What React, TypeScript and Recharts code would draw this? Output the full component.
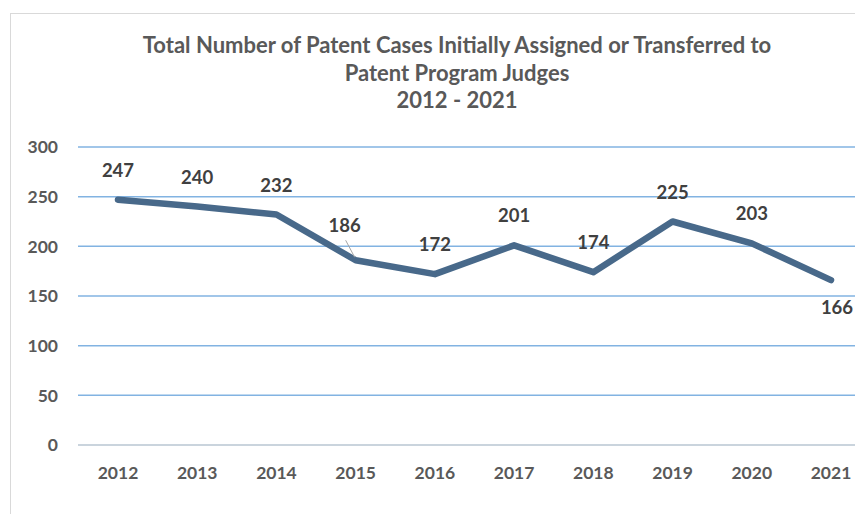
import { LineChart, Line, XAxis, YAxis, CartesianGrid, LabelList } from "recharts";

const years = ["2012", "2013", "2014", "2015", "2016", "2017", "2018", "2019", "2020", "2021"];
const cases = [247, 240, 232, 186, 172, 201, 174, 225, 203, 166];
const yTicks = [0, 50, 100, 150, 200, 250, 300];

const titleLines = [
  "Total Number of Patent Cases Initially Assigned or Transferred to",
  "Patent Program Judges",
  "2012 - 2021",
];

const data = years.map((year, i) => ({ year, cases: cases[i] }));

const FONT = "Lato, 'Open Sans', sans-serif";

// label offsets from the point; 2015 gets a leader line, 2021 sits below
function labelOffset(index: number) {
  if (index === 3) return { dx: -11, dy: -35 };
  if (index === years.length - 1) return { dx: 6, dy: 27 };
  return { dx: 0, dy: -30 };
}

function PointLabel(props: any) {
  const { x, y, value, index } = props;
  const { dx, dy } = labelOffset(index);
  return (
    <g>
      {index === 3 && (
        <line x1={x - 10} y1={y - 20} x2={x - 1} y2={y - 3} stroke="#a6a6a6" strokeWidth={1} />
      )}
      <text
        x={x + dx}
        y={y + dy}
        textAnchor="middle"
        dominantBaseline="central"
        fill="#404040"
        fontSize={18.5}
        fontWeight="bold"
        fontFamily={FONT}
      >
        {value}
      </text>
    </g>
  );
}

export default function App() {
  return (
    <div style={{ width: 855, height: 506, overflow: "hidden" }}>
      <div
        style={{
          marginLeft: 2,
          marginTop: 5,
          border: "1px solid #d9d9d9",
          width: 900,
          height: 560,
          position: "relative",
          fontFamily: FONT,
        }}
      >
        <div
          style={{
            position: "absolute",
            left: 0,
            width: 892,
            top: 17,
            textAlign: "center",
            color: "#595959",
            fontSize: 22,
            fontWeight: "bold",
            lineHeight: "27.5px",
          }}
        >
          {titleLines.map((t) => (
            <div key={t}>{t}</div>
          ))}
        </div>
        <LineChart
          width={900}
          height={500}
          data={data}
          margin={{ top: 133, right: 40, left: 0, bottom: 39 }}
        >
          <CartesianGrid vertical={false} stroke="#82b3e2" strokeWidth={1.5} />
          <XAxis
            dataKey="year"
            height={30}
            padding={{ left: 40, right: 40 }}
            tickLine={false}
            tickSize={0}
            tickMargin={22}
            axisLine={{ stroke: "#d9d9d9", strokeWidth: 1.5 }}
            tick={{ fill: "#595959", fontSize: 17.5, fontWeight: "bold", fontFamily: FONT }}
          />
          <YAxis
            width={67}
            domain={[0, 300]}
            ticks={yTicks}
            tickLine={false}
            tickSize={0}
            tickMargin={20}
            axisLine={false}
            tick={{ fill: "#595959", fontSize: 17.5, fontWeight: "bold", fontFamily: FONT }}
          />
          <Line
            type="linear"
            dataKey="cases"
            stroke="#48698a"
            strokeWidth={6.5}
            strokeLinecap="round"
            strokeLinejoin="round"
            dot={false}
            isAnimationActive={false}
          >
            <LabelList dataKey="cases" content={PointLabel} />
          </Line>
        </LineChart>
      </div>
    </div>
  );
}
